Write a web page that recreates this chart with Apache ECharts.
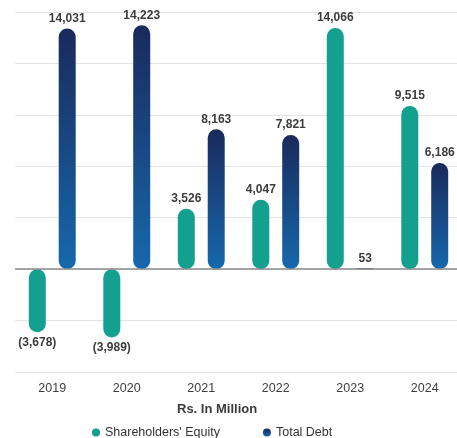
<!DOCTYPE html>
<html>
<head>
<meta charset="utf-8">
<script src="https://cdn.jsdelivr.net/npm/echarts@6/dist/echarts.min.js"></script>
<style>
  html, body { margin: 0; padding: 0; background: #ffffff; overflow: hidden; }
  #chart { width: 464px; height: 438px; }
</style>
</head>
<body>
<div id="chart"></div>
<script>
// Shareholders' equity vs total debt, Rs. in million
const years = ['2019', '2020', '2021', '2022', '2023', '2024'];
const equity = [-3678, -3989, 3526, 4047, 14066, 9515];
const totalDebt = [14031, 14223, 8163, 7821, 53, 6186];

const fmt = v => {
  const s = Math.abs(v).toLocaleString('en-US');
  return v < 0 ? '(' + s + ')' : s;
};

const labelStyle = {
  show: true,
  fontFamily: 'Liberation Sans',
  fontSize: 12,
  fontWeight: 'bold',
  color: '#3c3c3c',
  distance: 4,
  formatter: p => fmt(p.value)
};

const chart = echarts.init(document.getElementById('chart'), null, { renderer: 'canvas' });

chart.setOption({
  animation: false,
  textStyle: { fontFamily: 'Liberation Sans' },
  grid: { left: 15, right: 2, top: 12, bottom: 66, containLabel: false },
  xAxis: {
    type: 'category',
    data: years,
    axisLine: { show: false, onZero: false },
    axisTick: { show: false },
    axisLabel: { margin: 10, fontSize: 12.5, color: '#404040', fontFamily: 'Liberation Sans' }
  },
  yAxis: {
    type: 'value',
    min: -6000,
    max: 15000,
    interval: 3000,
    axisLabel: { show: false },
    axisLine: { show: false },
    axisTick: { show: false },
    splitLine: { lineStyle: { color: '#e4e4e4', width: 1 } }
  },
  graphic: [{
    type: 'text',
    left: 177,
    top: 403,
    style: { text: 'Rs. In Million', fontSize: 13, fontWeight: 'bold', fill: '#3a3a3a', fontFamily: 'Liberation Sans' }
  }],
  legend: {
    top: 421,
    left: 87,
    itemGap: 43,
    itemWidth: 8,
    itemHeight: 8,
    icon: 'circle',
    textStyle: { fontSize: 12.5, color: '#333', fontFamily: 'Liberation Sans' },
    data: ["Shareholders' Equity", 'Total Debt']
  },
  series: [
    {
      name: "Shareholders' Equity",
      type: 'bar',
      data: equity.map(v => ({
        value: v,
        label: { position: v < 0 ? 'bottom' : 'top' }
      })),
      barWidth: 17,
      barGap: '76%',
      itemStyle: { color: '#14a08f', borderRadius: 9 },
      label: labelStyle,
      markLine: {
        silent: true,
        symbol: 'none',
        label: { show: false },
        lineStyle: { color: '#8a8a8a', width: 1.5, type: 'solid' },
        data: [{ yAxis: 0 }]
      }
    },
    {
      name: 'Total Debt',
      type: 'bar',
      data: totalDebt,
      barWidth: 17,
      itemStyle: {
        borderRadius: 9,
        color: new echarts.graphic.LinearGradient(0, 0, 0, 1, [
          { offset: 0, color: '#1a2a5c' },
          { offset: 1, color: '#1668ac' }
        ])
      },
      label: Object.assign({}, labelStyle, { position: 'top' })
    }
  ]
});
</script>
</body>
</html>
